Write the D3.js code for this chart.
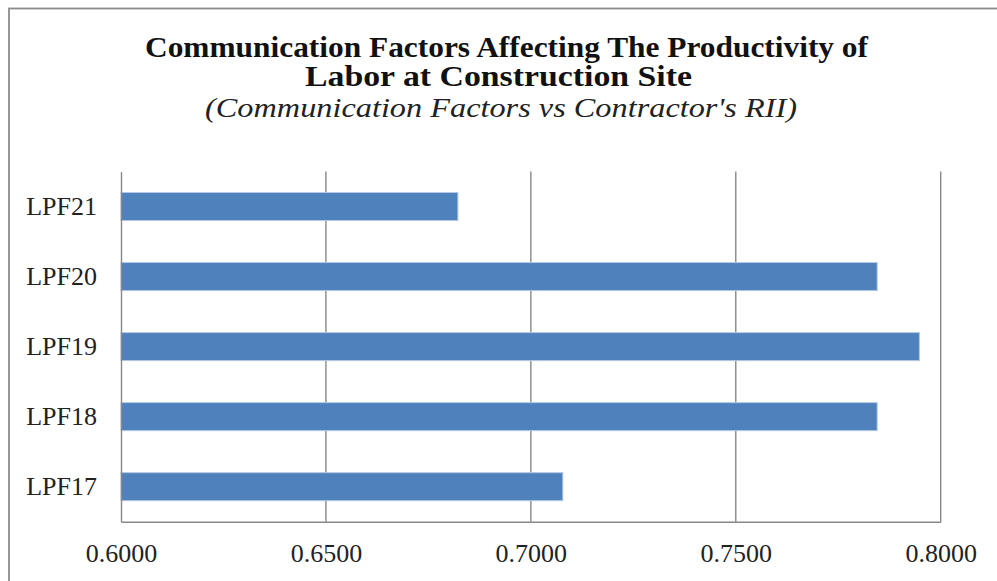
<!DOCTYPE html>
<html>
<head>
<meta charset="utf-8">
<script src="https://cdn.jsdelivr.net/npm/d3@7"></script>
<style>
  html, body { margin: 0; padding: 0; background: #fff; }
  svg { display: block; }
</style>
</head>
<body>
<svg id="chart" width="997" height="581"></svg>
<script>
// Relative Importance Index (contractor view) per communication factor
const categories = ["LPF21", "LPF20", "LPF19", "LPF18", "LPF17"];
const riiValues = [0.6822, 0.7845, 0.7948, 0.7845, 0.7078];
const tickValues = [0.60, 0.65, 0.70, 0.75, 0.80];

const titleLines = [
  "Communication Factors Affecting The Productivity of",
  "Labor at Construction Site"
];
const subtitle = "(Communication Factors vs Contractor's RII)";

const svg = d3.select("#chart");
const serif = "'Liberation Serif', 'Times New Roman', serif";

const plot = { left: 121, right: 940.7, top: 171.5, bottom: 521.7 };

// outer chart frame
svg.append("rect")
  .attr("x", 9).attr("y", 8.5)
  .attr("width", 1100).attr("height", 700)
  .attr("fill", "none")
  .attr("stroke", "#8c8c8c")
  .attr("stroke-width", 1.8);

const x = d3.scaleLinear().domain([0.6, 0.8]).range([plot.left, plot.right]);
const y = d3.scaleBand()
  .domain(categories)
  .range([plot.top, plot.bottom])
  .paddingInner(0.6)
  .paddingOuter(0.3);

// vertical gridlines
svg.append("g")
  .selectAll("line")
  .data(tickValues.slice(1))
  .join("line")
  .attr("x1", d => x(d)).attr("x2", d => x(d))
  .attr("y1", plot.top).attr("y2", plot.bottom)
  .attr("stroke", "#888")
  .attr("stroke-width", 1.4);

// bars
svg.append("g")
  .selectAll("rect")
  .data(categories.map((c, i) => ({ c, v: riiValues[i] })))
  .join("rect")
  .attr("x", x(0.6))
  .attr("y", d => y(d.c))
  .attr("width", d => x(d.v) - x(0.6))
  .attr("height", y.bandwidth())
  .attr("fill", "#4f81bd")
  .attr("stroke", "#b3c8e3")
  .attr("stroke-width", 1);

// x axis
const xAxis = svg.append("g")
  .attr("transform", `translate(0,${plot.bottom})`)
  .call(d3.axisBottom(x).tickValues(tickValues).tickFormat(d3.format(".4f")).tickSize(0).tickPadding(22));
xAxis.select(".domain").attr("stroke", "#888").attr("stroke-width", 1.4);
xAxis.selectAll("text")
  .attr("font-family", serif)
  .attr("font-size", 26)
  .attr("fill", "#222");

// y axis
const yAxis = svg.append("g")
  .attr("transform", `translate(${plot.left},0)`)
  .call(d3.axisLeft(y).tickSize(0).tickPadding(24));
yAxis.select(".domain").attr("stroke", "#888").attr("stroke-width", 1.4);
yAxis.selectAll("text")
  .attr("font-family", serif)
  .attr("font-size", 26)
  .attr("fill", "#222");

// title (two bold lines)
const titleSpecs = [
  { text: titleLines[0], cx: 506.5, y: 57, len: 723 },
  { text: titleLines[1], cx: 498.5, y: 86, len: 387 }
];
svg.append("g")
  .selectAll("text")
  .data(titleSpecs)
  .join("text")
  .attr("x", d => d.cx).attr("y", d => d.y)
  .attr("text-anchor", "middle")
  .attr("font-family", serif)
  .attr("font-weight", "bold")
  .attr("font-size", 29)
  .attr("fill", "#111")
  .attr("textLength", d => d.len)
  .attr("lengthAdjust", "spacingAndGlyphs")
  .text(d => d.text);

// italic subtitle
svg.append("text")
  .attr("x", 501).attr("y", 117)
  .attr("text-anchor", "middle")
  .attr("font-family", serif)
  .attr("font-style", "italic")
  .attr("font-size", 27)
  .attr("fill", "#222")
  .attr("textLength", 592)
  .attr("lengthAdjust", "spacingAndGlyphs")
  .text(subtitle);
</script>
</body>
</html>
